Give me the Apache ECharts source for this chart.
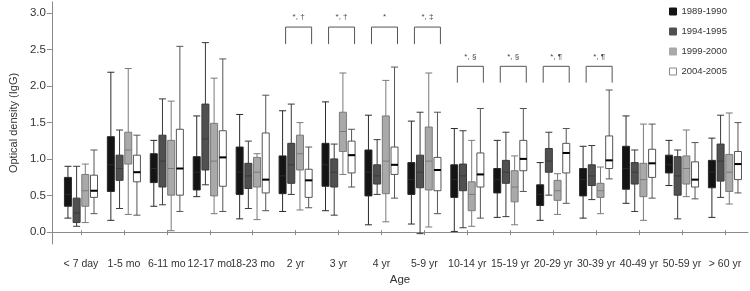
<!DOCTYPE html>
<html><head><meta charset="utf-8">
<script src="https://cdn.jsdelivr.net/npm/echarts@6/dist/echarts.min.js"></script>
<style>html,body{margin:0;padding:0;background:#fff}#c{width:750px;height:291px}</style>
</head><body><div id="c"></div>
<script>
const categories = ['< 7 day','1-5 mo','6-11 mo','12-17 mo','18-23 mo','2 yr','3 yr','4 yr','5-9 yr','10-14 yr','15-19 yr','20-29 yr','30-39 yr','40-49 yr','50-59 yr','> 60 yr'];
const seriesNames = ['1989-1990','1994-1995','1999-2000','2004-2005'];
// [min, Q1, median, Q3, max]
const s1989 = [[0.23,0.39,0.55,0.78,0.93],[0.20,0.59,0.95,1.33,2.20],[0.39,0.71,0.90,1.10,1.28],[0.52,0.61,0.85,1.06,1.61],[0.22,0.55,0.85,1.19,1.63],[0.32,0.56,0.80,1.07,1.68],[0.33,0.66,0.95,1.24,1.80],[0.14,0.53,0.85,1.15,1.62],[0.15,0.55,0.75,0.98,1.54],[0.05,0.51,0.75,0.95,1.44],[0.24,0.57,0.75,0.90,1.28],[0.20,0.40,0.55,0.68,0.98],[0.23,0.53,0.75,0.90,1.20],[0.43,0.62,0.90,1.20,1.61],[0.67,0.84,0.95,1.08,1.28],[0.24,0.64,0.85,1.01,1.31]];
const s1994 = [[0.12,0.17,0.30,0.50,0.93],[0.36,0.74,0.90,1.08,1.42],[0.41,0.65,1.00,1.35,1.84],[0.68,0.88,1.30,1.77,2.60],[0.36,0.63,0.80,0.97,1.27],[0.55,0.70,0.95,1.24,1.77],[0.27,0.65,0.85,1.03,1.23],[0.55,0.69,0.80,0.95,1.29],[0.02,0.64,0.85,1.08,1.66],[0.10,0.60,0.80,0.96,1.41],[0.25,0.70,0.85,1.01,1.39],[0.54,0.85,1.00,1.17,1.39],[0.48,0.67,0.80,0.95,1.21],[0.32,0.69,0.85,0.98,1.15],[0.22,0.54,0.80,1.06,1.15],[0.51,0.73,1.00,1.23,1.62]];
const s1999 = [[0.17,0.39,0.60,0.82,0.96],[0.28,0.96,1.15,1.39,2.25],[0.06,0.54,0.90,1.28,1.81],[0.29,0.53,1.00,1.51,2.12],[0.21,0.65,0.85,1.05,1.10],[0.34,0.88,1.10,1.35,1.52],[0.82,1.13,1.40,1.66,2.19],[0.18,0.56,1.00,1.61,2.09],[0.11,0.61,1.00,1.46,2.19],[0.12,0.33,0.55,0.72,1.28],[0.14,0.45,0.65,0.87,1.07],[0.28,0.47,0.60,0.74,0.83],[0.29,0.51,0.60,0.70,0.92],[0.20,0.52,0.75,0.97,1.50],[0.52,0.69,0.90,1.07,1.42],[0.42,0.59,0.85,1.09,1.65]];
const s2004 = [[0.29,0.51,0.60,0.81,1.15],[0.27,0.72,0.85,1.08,1.35],[0.32,0.54,0.90,1.43,2.55],[0.32,0.66,1.05,1.41,2.38],[0.33,0.57,0.75,1.38,1.89],[0.37,0.51,0.74,0.89,1.19],[0.65,0.84,1.08,1.27,1.43],[0.50,0.82,0.95,1.19,2.27],[0.29,0.60,0.88,1.05,1.66],[0.23,0.65,0.82,1.11,1.71],[0.59,0.87,1.03,1.28,1.71],[0.43,0.84,1.11,1.24,1.44],[0.76,0.90,1.01,1.34,1.96],[0.50,0.78,0.97,1.16,1.50],[0.49,0.65,0.75,0.99,1.25],[0.57,0.75,0.96,1.13,1.52]];
const yTicks = [0,0.5,1.0,1.5,2.0,2.5,3.0];
// significance brackets: [category index, top value, leg value, label]
const brackets = [[5,2.81,2.58,'*, †'],[6,2.81,2.58,'*, †'],[7,2.81,2.58,'*'],[8,2.81,2.58,'*, ‡'],[9,2.28,2.06,'*, §'],[10,2.28,2.06,'*, §'],[11,2.28,2.06,'*, ¶'],[12,2.28,2.06,'*, ¶']];

const FONT = "'Liberation Sans',Arial,sans-serif";
const YMIN = -0.16, YMAX = 3.15;
const styles = [
  {color:'#141414', borderColor:'#2a2a2a'},
  {color:'#505050', borderColor:'#3a3a3a'},
  {color:'#a9a9a9', borderColor:'#7a7a7a'},
  {color:'#ffffff', borderColor:'#555555'}
];
const allData = [s1989, s1994, s1999, s2004];

const chart = echarts.init(document.getElementById('c'), null, {renderer:'canvas'});
const option = {
  animation:false,
  textStyle:{fontFamily:FONT},
  legend:{
    orient:'vertical', left:664, top:0, icon:'rect', itemWidth:7, itemHeight:7, itemGap:7,
    textStyle:{fontFamily:FONT, fontSize:9.5, color:'#333', lineHeight:13},
    data:seriesNames.map((n,i)=>({name:n, itemStyle:{color:styles[i].color, borderColor:i===3?'#888':styles[i].color, borderWidth:1}}))
  },
  grid:[
    {left:45, right:2, top:1.9, bottom:44},
    {left:59.5, right:3.6, top:1.9, bottom:44}
  ],
  xAxis:[
    {gridIndex:0, type:'value', min:0, max:1, axisLine:{show:true, lineStyle:{color:'#8a8a8a'}}, axisTick:{show:false}, axisLabel:{show:false}, splitLine:{show:false},
     name:'Age', nameLocation:'middle', nameGap:30, nameTextStyle:{fontFamily:FONT, fontSize:11.5, color:'#333'}},
    {gridIndex:1, type:'category', data:categories, boundaryGap:true,
     axisLine:{show:false}, axisTick:{show:true, inside:true, length:5, alignWithLabel:true, lineStyle:{color:'#8a8a8a'}},
     axisLabel:{interval:0, margin:12, fontFamily:FONT, fontSize:10.5, color:'#333', hideOverlap:false}, splitLine:{show:false}}
  ],
  yAxis:[
    {gridIndex:0, type:'value', min:YMIN, max:YMAX,
     axisLine:{show:true, lineStyle:{color:'#8a8a8a'}},
     axisTick:{show:true, length:5, customValues:yTicks, lineStyle:{color:'#8a8a8a'}},
     axisLabel:{customValues:yTicks, margin:6, fontFamily:FONT, fontSize:11.5, color:'#333', formatter:v=>v.toFixed(1)},
     splitLine:{show:false},
     name:'Optical density (IgG)', nameLocation:'middle', nameGap:24, nameTextStyle:{fontFamily:FONT, fontSize:11, color:'#333'}},
    {gridIndex:1, type:'value', min:YMIN, max:YMAX, show:false}
  ],
  series: allData.map((d,i)=>({
    name:seriesNames[i], type:'boxplot', xAxisIndex:1, yAxisIndex:1,
    boxWidth:[7,7], data:d,
    itemStyle:{color:styles[i].color, borderColor:styles[i].borderColor, borderWidth:1},
    emphasis:{disabled:true}
  })).concat([{
    // thicker median marks for the 2004-2005 (white) boxes
    type:'custom', xAxisIndex:1, yAxisIndex:1, silent:true, z:5,
    data:s2004.map((d,i)=>[i, d[2]]),
    renderItem:function(params, api){
      const p = api.coord([api.value(0), api.value(1)]);
      const bw = api.size([1,0])[0];
      const avail = bw*0.8-2, gap = avail/4*0.3, boxW = (avail-3*gap)/4;
      const off = boxW/2 - avail/2 + 3*(gap+boxW);
      const cx = p[0]+off;
      return {type:'line', shape:{x1:cx-3.5, y1:p[1], x2:cx+3.5, y2:p[1]}, style:{stroke:'#000', lineWidth:2}};
    }
  },{
    type:'custom', xAxisIndex:1, yAxisIndex:1, silent:true,
    data:brackets,
    renderItem:function(params, api){
      const top = api.coord([api.value(0), api.value(1)]);
      const leg = api.coord([api.value(0), api.value(2)]);
      const x1 = top[0]-10, x2 = top[0]+16;
      const lab = brackets[params.dataIndex][3];
      return {type:'group', children:[
        {type:'polyline', shape:{points:[[x1,leg[1]],[x1,top[1]],[x2,top[1]],[x2,leg[1]]]}, style:{stroke:'#555', lineWidth:1, fill:null}},
        {type:'text', style:{text:lab, x:(x1+x2)/2, y:top[1]-10, align:'center', verticalAlign:'middle', font:'8px '+FONT, fill:'#444'}}
      ]};
    }
  }])
};
chart.setOption(option);
</script></body></html>
